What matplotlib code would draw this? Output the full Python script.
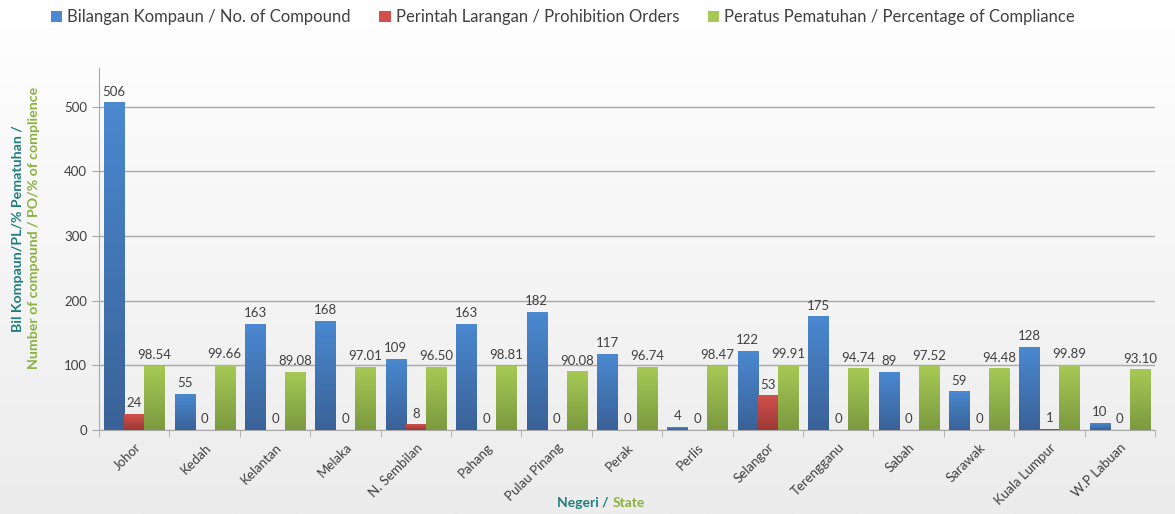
import numpy as np
import matplotlib
matplotlib.use("Agg")
import matplotlib.pyplot as plt
from matplotlib.colors import LinearSegmentedColormap
from matplotlib.patches import Patch

plt.rcParams['font.family'] = ['Lato', 'DejaVu Sans']

states = ['Johor', 'Kedah', 'Kelantan', 'Melaka', 'N. Sembilan', 'Pahang',
          'Pulau Pinang', 'Perak', 'Perlis', 'Selangor', 'Terengganu',
          'Sabah', 'Sarawak', 'Kuala Lumpur', 'W.P Labuan']
compound = [506, 55, 163, 168, 109, 163, 182, 117, 4, 122, 175, 89, 59, 128, 10]
prohibition = [24, 0, 0, 0, 8, 0, 0, 0, 0, 53, 0, 0, 0, 1, 0]
compliance = [98.54, 99.66, 89.08, 97.01, 96.50, 98.81, 90.08, 96.74, 98.47,
              99.91, 94.74, 97.52, 94.48, 99.89, 93.10]

series = [
    ('Bilangan Kompaun / No. of Compound', compound, '{:d}', ('#3a6298', '#4a88d0')),
    ('Perintah Larangan / Prohibition Orders', prohibition, '{:d}', ('#9c3937', '#d2504c')),
    ('Peratus Pematuhan / Percentage of Compliance', compliance, '{:.2f}', ('#7c9a40', '#a6c955')),
]

TEAL = '#1f7f7c'
GREEN = '#8ab23e'

fig = plt.figure(figsize=(11.75, 5.14), dpi=100)

# background gradient
bg = fig.add_axes([0, 0, 1, 1], zorder=-10)
grad = np.linspace(0, 1, 256).reshape(-1, 1)
bg.imshow(grad, aspect='auto', extent=[0, 1, 0, 1], origin='upper',
          cmap=LinearSegmentedColormap.from_list('bg', ['#ffffff', '#ececec']))
bg.axis('off')

ax = fig.add_axes([0.0843, 0.1634, 0.8987, 0.7043])
ax.patch.set_alpha(0)

x = np.arange(len(states))
w = 0.285
offsets = [-w, 0, w]

# gradient filled bars
for (name, vals, fmt, (dark, light)), off in zip(series, offsets):
    cmap = LinearSegmentedColormap.from_list(name, [dark, light])
    for xi, v in zip(x, vals):
        left = xi + off - w / 2
        if v > 0:
            ax.imshow(np.linspace(0, 1, 64).reshape(-1, 1), cmap=cmap, origin='lower',
                      aspect='auto', extent=[left, left + w, 0, v], zorder=3)
        ax.text(xi + off, v + 8, fmt.format(v), ha='center', va='bottom',
                fontsize=9.5, color='#404040', zorder=4)

ax.set_xlim(-0.5, len(states) - 0.5)
ax.set_ylim(0, 560)
ax.set_yticks(range(0, 501, 100))
ax.yaxis.grid(True, color='#a8a8a8', linewidth=1)
ax.set_axisbelow(True)
ax.tick_params(axis='y', labelsize=9.5, labelcolor='#404040', color='#a8a8a8', length=5)

ax.set_xticks(x)
ax.set_xticklabels(states, rotation=45, ha='right', rotation_mode='anchor',
                   fontsize=9.5, color='#404040')
ax.tick_params(axis='x', which='major', length=0, pad=8)
ax.set_xticks(np.arange(-0.5, len(states), 1), minor=True)
ax.tick_params(axis='x', which='minor', length=5, color='#a8a8a8')

for s in ['top', 'right']:
    ax.spines[s].set_visible(False)
for s in ['left', 'bottom']:
    ax.spines[s].set_color('#a8a8a8')

# y label in two colours
fig.text(0.015, 0.556, 'Bil Kompaun/PL/% Pematuhan /', rotation=90, ha='center', va='center',
         fontsize=10.2, fontweight='bold', color=TEAL)
fig.text(0.029, 0.556, 'Number of compound / PO/% of complience', rotation=90, ha='center',
         va='center', fontsize=10.2, fontweight='bold', color=GREEN)

# x label in two colours
fig.text(0.521, 0.021, 'Negeri / ', ha='right', va='center', fontsize=10,
         fontweight='bold', color=TEAL)
fig.text(0.521, 0.021, 'State', ha='left', va='center', fontsize=10,
         fontweight='bold', color=GREEN)

handles = [Patch(facecolor=c[3][1], edgecolor='none') for c in series]
fig.legend(handles, [s[0] for s in series], loc='center', bbox_to_anchor=(0.479, 0.966),
           ncol=3, frameon=False, fontsize=12, handlelength=0.7, handleheight=0.7,
           handletextpad=0.3, columnspacing=1.7, labelcolor='#404040')

fig.savefig('out.png', dpi=100)
